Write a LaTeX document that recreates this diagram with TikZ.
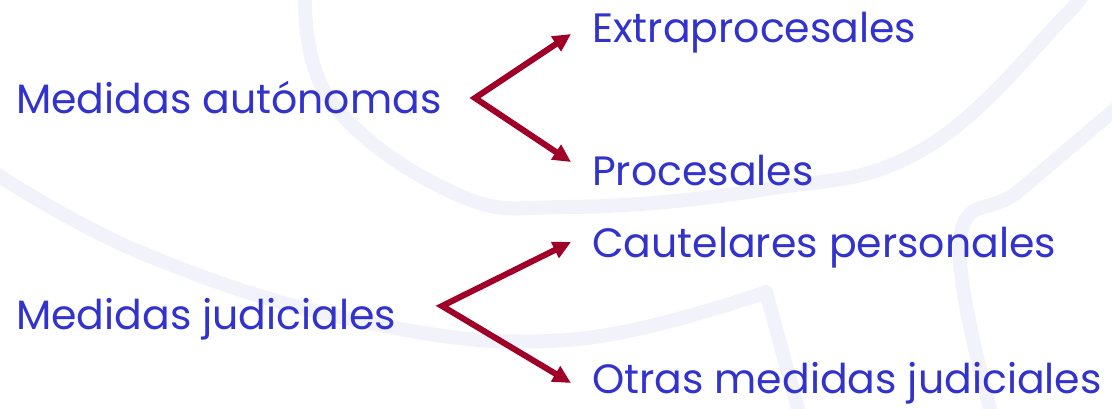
\documentclass[tikz,border=0pt]{standalone}
\usepackage{fontspec}
\setmainfont{Poppins}
\usetikzlibrary{arrows.meta}
\definecolor{txtblue}{RGB}{50,50,205}
\definecolor{arrred}{RGB}{160,0,40}
\definecolor{wmark}{RGB}{242,242,251}
\begin{document}
\begin{tikzpicture}[x=1pt,y=-1pt,
  lbl/.style={anchor=base west, inner sep=0pt, text=txtblue, font=\fontsize{41}{41}\selectfont},
  branch/.style={draw=arrred, line width=6pt, line join=miter, {Triangle[length=18pt,width=17pt]}-{Triangle[length=18pt,width=17pt]}},
  wm/.style={draw=wmark, line width=14pt, line cap=round}]
\useasboundingbox (0,0) rectangle (1112,408);
% watermark
\draw[wm] plot[smooth, tension=0.7] coordinates {(305,-10) (330,100) (454,193) (567,207) (760,190) (922,150) (1064,17) (1080,-10)};
\draw[wm] plot[smooth, tension=0.7] coordinates {(-10,170) (142,253) (355,320) (567,340) (766,292)};
\draw[wm] (766,292) -- (801,420);
\draw[wm] plot[smooth, tension=0.7] coordinates {(1120,105) (1020,190) (960,240) (993,420)};
% texts
\node[lbl] (ma) at (16,113) {Medidas autónomas};
\node[lbl] (ex) at (592,42) {Extraprocesales};
\node[lbl] (pr) at (592,185) {Procesales};
\node[lbl] (mj) at (16,329) {Medidas judiciales};
\node[lbl] (ca) at (592,257) {Cautelares personales};
\node[lbl] (ot) at (592,393) {Otras medidas judiciales};
% arrows
\coordinate (v1) at (475,98);
\coordinate (t1a) at (571,34);
\coordinate (t1b) at (571,162);
\coordinate (v2) at (442,306);
\coordinate (t2a) at (571,242);
\coordinate (t2b) at (571,383);
\draw[branch] (t1a) -- (v1) -- (t1b);
\draw[branch] (t2a) -- (v2) -- (t2b);
\end{tikzpicture}
\end{document}
